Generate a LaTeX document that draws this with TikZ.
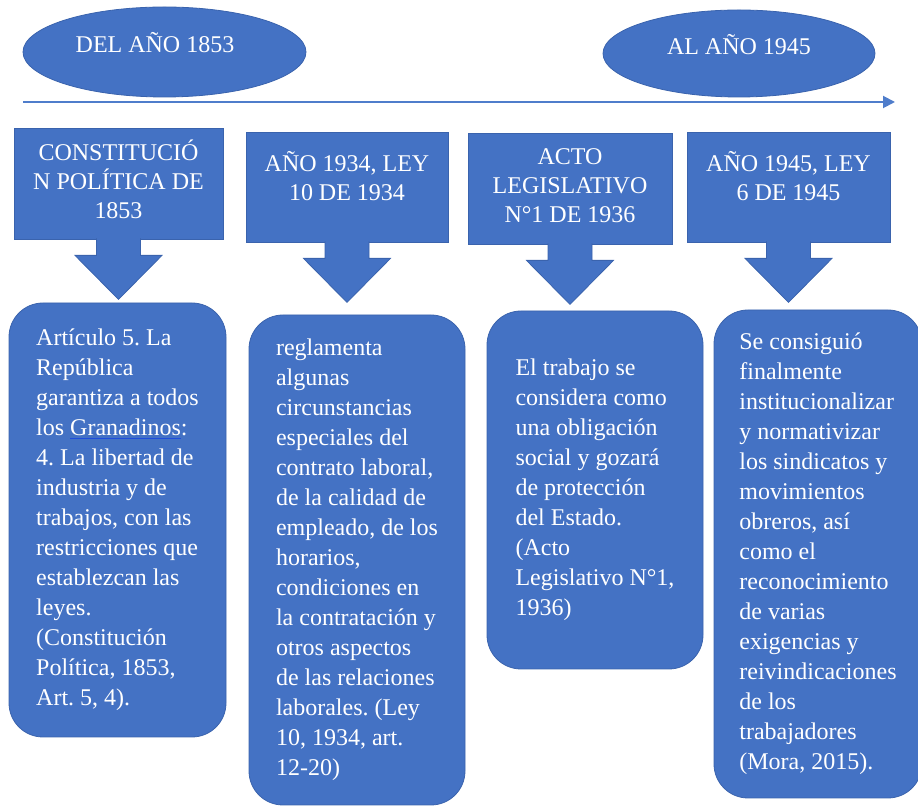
\documentclass[tikz,border=0pt]{standalone}
\usepackage{fontspec}
\setmainfont{Liberation Serif}
\usetikzlibrary{calc,arrows.meta,shapes.geometric}
\definecolor{shapefill}{HTML}{4472C4}
\definecolor{shapeedge}{HTML}{3A63AD}
\definecolor{lineblue}{HTML}{4F7DCB}
\definecolor{ulblue}{HTML}{1F4EDB}
\frenchspacing
\def\blockdown(#1){\draw[shapeedge, line width=0.4pt, fill=shapefill] ($(#1.south)+(22,-1)$) -- ($(#1.south)+(22,16)$) -- ($(#1.south)+(43.5,16)$) -- ($(#1.south)+(0,60)$) -- ($(#1.south)+(-43.5,16)$) -- ($(#1.south)+(-22,16)$) -- ($(#1.south)+(-22,-1)$);}
\newcommand{\granul}[1]{\setbox0\hbox{#1}\rlap{\color{ulblue}\rule[-1.7pt]{\wd0}{0.7pt}}\box0}
\tikzset{
	yearoval/.style={ellipse, draw=shapeedge, line width=0.4pt, fill=shapefill, inner sep=0pt},
	ovaltext/.style={text=white, inner sep=0pt, anchor=base, font=\fontsize{12}{14.5}\selectfont},
	headbox/.style={rectangle, draw=shapeedge, line width=0.4pt, fill=shapefill, minimum width=101.5pt, minimum height=55pt, inner sep=0pt},
	headtext/.style={text=white, align=center, inner sep=0pt, font=\fontsize{12}{14.5}\selectfont},
	notebox/.style={rectangle, rounded corners=17pt, draw=shapeedge, line width=0.4pt, fill=shapefill, text=white, align=left, inner sep=0pt, font=\fontsize{12}{15}\selectfont},
	timeline/.style={draw=lineblue, line width=1pt, -{Triangle[length=6pt,width=6pt]}}
}

\begin{document}
\begin{tikzpicture}[x=0.5pt, y=-0.5pt]
		%%%%% START %%%%%
		\useasboundingbox (0,0) rectangle (918,806);
		
		\node[yearoval, minimum width=141.5pt, minimum height=45pt] (odel) at (164.5,52) {};
		\node[ovaltext] (tdel) at ($(odel.center)+(-9.5,1)$) {DEL AÑO 1853};
		\node[yearoval, minimum width=136pt, minimum height=43.5pt] (oal) at (739,53.5) {};
		\node[ovaltext] (tal) at ($(oal.center)+(0,1.5)$) {AL AÑO 1945};
		
		\coordinate (tstart) at (23,102);
		\coordinate (tend) at (895,102);
		\draw[timeline] (tstart) -- (tend);
		
		\node[headbox, minimum width=104.5pt, minimum height=55.5pt] (hconst) at (118.5,183.5) {};
		\node[headtext] (tconst) at ($(hconst.center)+(0,-4)$) {CONSTITUCIÓ\\N POLÍTICA DE\\1853};
		\node[headbox, minimum width=101pt] (hley10) at (347,187) {};
		\node[headtext] (tley10) at ($(hley10.center)+(0,-11)$) {AÑO 1934, LEY\\10 DE 1934};
		\node[headbox, minimum width=102pt, minimum height=55.5pt] (hacto) at (570,188.5) {};
		\node[headtext] (tacto) at ($(hacto.center)+(0,-2.5)$) {ACTO\\LEGISLATIVO\\N°1 DE 1936};
		\node[headbox] (hley6) at (788.5,187) {};
		\node[headtext] (tley6) at ($(hley6.center)+(0,-11)$) {AÑO 1945, LEY\\6 DE 1945};
		
		\blockdown(hconst)
		\blockdown(hley10)
		\blockdown(hacto)
		\blockdown(hley6)
		
		\node[notebox, minimum width=108.5pt, minimum height=217pt] (bconst) at (117.5,520) {Artículo 5. La\\República\\garantiza a todos\\los \granul{Granadinos}:\\4. La libertad de\\industria y de\\trabajos, con las\\restricciones que\\establezcan las\\leyes.\\(Constitución\\Política, 1853,\\Art. 5, 4).};
		
		\node[notebox, minimum width=108pt, minimum height=245pt] (bley10) at (357,560) {reglamenta\\algunas\\circunstancias\\especiales del\\contrato laboral,\\de la calidad de\\empleado, de los\\horarios,\\condiciones en\\la contratación y\\otros aspectos\\de las relaciones\\laborales. (Ley\\10, 1934, art.\\12-20)};
		
		\node[notebox, minimum width=108pt, minimum height=179pt] (bacto) at (595,490) {El trabajo se\\considera como\\una obligación\\social y gozará\\de protección\\del Estado.\\(Acto\\Legislativo N°1,\\1936)};
		
		\node[notebox, minimum width=104pt, minimum height=244pt] (bley6) at (818,554) {Se consiguió\\finalmente\\institucionalizar\\y normativizar\\los sindicatos y\\movimientos\\obreros, así\\como el\\reconocimiento\\de varias\\exigencias y\\reivindicaciones\\de los\\trabajadores\\(Mora, 2015).};
		
		%%%%% END %%%%%
\end{tikzpicture}
\end{document}
